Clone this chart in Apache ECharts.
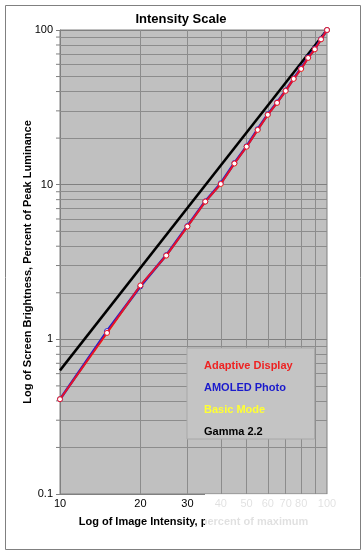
<!DOCTYPE html>
<html>
<head>
<meta charset="utf-8">
<script src="https://cdn.jsdelivr.net/npm/echarts@6/dist/echarts.min.js"></script>
<style>
html,body{margin:0;padding:0;background:#fff;}
#chart{width:362px;height:550px;}
</style>
</head>
<body>
<div id="chart"></div>
<script>
// ---- data ----
var intensity = [10, 15, 20, 25, 30, 35, 40, 45, 50, 55, 60, 65, 70, 75, 80, 85, 90, 95, 100];
var adaptiveDisplay = [0.41, 1.1, 2.23, 3.48, 5.36, 7.77, 10.1, 13.7, 17.6, 22.6, 28.3, 33.8, 40.4, 48.3, 56, 66, 75, 87, 100];
var amoledPhoto = [0.41, 1.13, 2.2, 3.5, 5.4, 7.8, 10.2, 13.8, 17.7, 22.8, 28.5, 34, 40.6, 48.5, 56.5, 66.5, 75.5, 87.5, 100];
var basicMode = [0.41, 1.1, 2.2, 3.48, 5.36, 7.77, 10.1, 13.7, 17.6, 22.6, 28.3, 33.8, 40.4, 48.3, 56, 66, 75, 87, 100];
var gammaX = [10, 100];
var gamma22 = [0.63, 100];
var xMinorLabels = [20, 30, 40, 50, 60, 70, 80];
var xGridValues = [20, 30, 40, 50, 60, 70, 80, 90];
var yGridValues = [0.2, 0.3, 0.4, 0.5, 0.6, 0.7, 0.8, 0.9, 2, 3, 4, 5, 6, 7, 8, 9, 20, 30, 40, 50, 60, 70, 80, 90];
var seriesNames = ['Adaptive Display', 'AMOLED Photo', 'Basic Mode', 'Gamma 2.2'];
var seriesColors = ['#e8102a', '#2020cc', '#f0f020', '#000000'];
var legendTextColors = ['#ee2222', '#1a1acc', '#ffff33', '#000000'];

function pairs(xs, ys) { return xs.map(function (x, i) { return [x, ys[i]]; }); }

var font = 'Arial, "Liberation Sans", sans-serif';
var chart = echarts.init(document.getElementById('chart'), null, {renderer: 'canvas'});

var gridLines = [];
xGridValues.forEach(function (v) {
  gridLines.push({xAxis: v, label: {show: xMinorLabels.indexOf(v) >= 0, formatter: String(v)}});
});
yGridValues.forEach(function (v) {
  gridLines.push({yAxis: v, label: {show: false}});
});

var option = {
  backgroundColor: '#ffffff',
  animation: false,
  title: {
    text: 'Intensity Scale',
    left: 'center',
    top: 8,
    textStyle: {fontFamily: font, fontSize: 13, fontWeight: 'bold', color: '#000'}
  },
  legend: {
    z: 50,
    orient: 'vertical',
    left: 187,
    top: 348,
    width: 128,
    backgroundColor: '#c4c4c4',
    borderColor: '#a8a8a8',
    borderWidth: 1,
    padding: [11, 22, 0, 11],
    itemGap: 8,
    itemWidth: 0,
    itemHeight: 12,
    selectedMode: false,
    textStyle: {fontFamily: font, fontSize: 11, fontWeight: 'bold', lineHeight: 14},
    data: seriesNames.map(function (n, i) {
      return {name: n, icon: 'rect', itemStyle: {opacity: 0}, textStyle: {color: legendTextColors[i], lineHeight: 14}};
    })
  },
  grid: {
    left: 60, right: 35, top: 30, bottom: 56,
    show: true,
    backgroundColor: '#c0c0c0',
    borderColor: '#808080',
    borderWidth: 1
  },
  xAxis: {
    type: 'log',
    logBase: 10,
    min: 10,
    max: 100,
    name: 'Log of Image Intensity, percent of maximum',
    nameLocation: 'middle',
    nameGap: 22,
    nameMoveOverlap: false,
    nameTextStyle: {fontFamily: font, fontSize: 11, fontWeight: 'bold', color: '#000'},
    axisLine: {show: true, lineStyle: {color: '#808080'}},
    axisTick: {show: false},
    splitLine: {show: false},
    axisLabel: {fontFamily: font, fontSize: 11, color: '#000', margin: 4}
  },
  yAxis: {
    type: 'log',
    logBase: 10,
    min: 0.1,
    max: 100,
    name: 'Log of Screen Brightness, Percent of Peak Luminance',
    nameLocation: 'middle',
    nameGap: 27,
    nameMoveOverlap: false,
    nameTextStyle: {fontFamily: font, fontSize: 11, fontWeight: 'bold', color: '#000'},
    axisLine: {show: true, lineStyle: {color: '#808080'}},
    axisTick: {show: true, length: 4, inside: false, lineStyle: {color: '#808080'}},
    splitLine: {show: true, lineStyle: {color: '#808080', width: 1}},
    axisLabel: {fontFamily: font, fontSize: 11, color: '#000', margin: 7,
      formatter: function (v) { return String(v); }}
  },
  graphic: [
    {
      type: 'rect',
      left: 3, top: 3,
      shape: {width: 355, height: 544},
      style: {fill: 'none', stroke: '#808080', lineWidth: 1},
      silent: true,
      z: -1
    },
    {
      type: 'rect',
      left: 205, top: 494,
      shape: {width: 146, height: 38},
      style: {fill: 'rgba(255,255,255,0.88)'},
      silent: true,
      z: 100
    }
  ],
  series: [
    {
      name: '__grid',
      type: 'line',
      data: [],
      z: 1,
      silent: true,
      markLine: {
        z: 1,
        silent: true,
        symbol: 'none',
        animation: false,
        lineStyle: {color: '#8c8c8c', width: 1, type: 'solid'},
        label: {position: 'start', distance: 4, fontFamily: font, fontSize: 11, color: '#000'},
        emphasis: {disabled: true},
        data: gridLines
      }
    },
    {
      name: '__yticks',
      type: 'custom',
      clip: false,
      silent: true,
      z: 2,
      data: yGridValues,
      renderItem: function (params, api) {
        var p = api.coord([10, api.value(0)]);
        return {
          type: 'line',
          shape: {x1: p[0] - 4, y1: p[1], x2: p[0], y2: p[1]},
          style: {stroke: '#808080', lineWidth: 1}
        };
      }
    },
    {
      name: 'Gamma 2.2',
      type: 'line',
      data: pairs(gammaX, gamma22),
      showSymbol: false,
      symbol: 'none',
      z: 10,
      lineStyle: {color: seriesColors[3], width: 2.5, type: 'solid'},
      itemStyle: {color: seriesColors[3]}
    },
    {
      name: 'Basic Mode',
      type: 'line',
      data: pairs(intensity, basicMode),
      symbol: 'circle',
      symbolSize: 5,
      z: 11,
      lineStyle: {color: seriesColors[2], width: 2},
      itemStyle: {color: '#ffffff', borderColor: seriesColors[2], borderWidth: 1}
    },
    {
      name: 'AMOLED Photo',
      type: 'line',
      data: pairs(intensity, amoledPhoto),
      symbol: 'circle',
      symbolSize: 5,
      z: 12,
      lineStyle: {color: seriesColors[1], width: 2.6},
      itemStyle: {color: '#ffffff', borderColor: seriesColors[1], borderWidth: 1}
    },
    {
      name: 'Adaptive Display',
      type: 'line',
      data: pairs(intensity, adaptiveDisplay),
      symbol: 'circle',
      symbolSize: 5,
      z: 13,
      lineStyle: {color: seriesColors[0], width: 2},
      itemStyle: {color: '#ffffff', borderColor: seriesColors[0], borderWidth: 1}
    }
  ]
};
chart.setOption(option);
</script>
</body>
</html>
